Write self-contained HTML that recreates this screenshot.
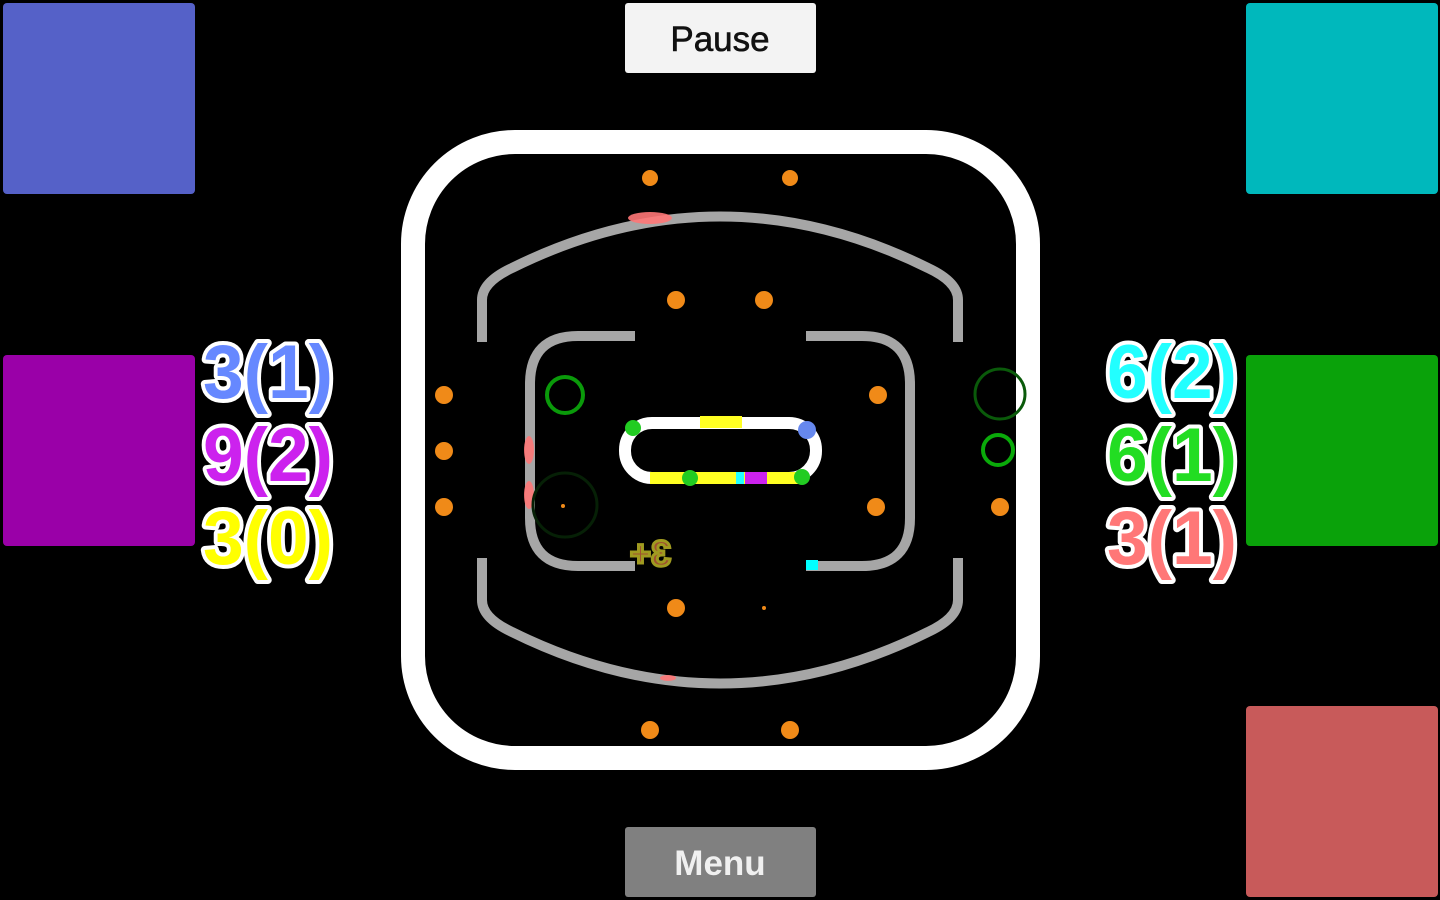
<!DOCTYPE html>
<html><head><meta charset="utf-8"><style>
html,body{margin:0;padding:0;background:#000;width:1440px;height:900px;overflow:hidden}
svg{display:block}
</style></head><body>
<svg width="1440" height="900" viewBox="0 0 1440 900" xmlns="http://www.w3.org/2000/svg">
<rect width="1440" height="900" fill="#000"/>
<rect x="3" y="3" width="192" height="191" rx="4" fill="#5561c8"/>
<rect x="3" y="355" width="192" height="191" rx="4" fill="#9a00a8"/>
<rect x="1246" y="3" width="192" height="191" rx="4" fill="#00b8bc"/>
<rect x="1246" y="355" width="192" height="191" rx="4" fill="#0aa20a"/>
<rect x="1246" y="706" width="192" height="191" rx="4" fill="#c85a5a"/>
<rect x="625" y="3" width="191" height="70" rx="3" fill="#f3f3f3"/>
<text x="720" y="51" font-family="Liberation Sans, sans-serif" font-size="35" text-anchor="middle" fill="#111" stroke="#111" stroke-width="0.6">Pause</text>
<rect x="625" y="827" width="191" height="70" rx="3" fill="#808080"/>
<text x="720" y="875" font-family="Liberation Sans, sans-serif" font-size="35" text-anchor="middle" font-weight="bold" fill="#f0f0f0">Menu</text>
<rect x="413" y="142" width="615" height="616" rx="102" fill="none" stroke="#fff" stroke-width="24"/>
<g fill="none" stroke="#a6a6a6" stroke-width="10">
<path d="M482,342 L482,300 Q482,282 512,268 Q720,165 928,268 Q958,282 958,300 L958,342"/>
<path d="M482,558 L482,600 Q482,618 512,632 Q720,735 928,632 Q958,618 958,600 L958,558"/>
<path d="M635,336 L578,336 Q530,336 530,384 L530,518 Q530,566 578,566 L635,566"/>
<path d="M806,336 L862,336 Q910,336 910,384 L910,518 Q910,566 862,566 L806,566"/>
</g>
<g fill="#ff7777" opacity="0.9">
<ellipse cx="650" cy="218" rx="22" ry="6"/>
<ellipse cx="529" cy="450" rx="5" ry="14"/>
<ellipse cx="529" cy="495" rx="5" ry="14"/>
<ellipse cx="668" cy="678" rx="8" ry="3"/>
</g>
<rect x="806" y="560" width="12" height="10" fill="#00ffff"/>
<rect x="625" y="423" width="191" height="55" rx="27" fill="none" stroke="#fff" stroke-width="12"/>
<g>
<circle cx="633" cy="428" r="8" fill="#22cc22"/>
<rect x="700" y="416" width="42" height="12" fill="#ffff22"/>
<circle cx="807" cy="430" r="9" fill="#6688ee"/>
<rect x="650" y="472" width="150" height="12" fill="#ffff22"/>
<circle cx="690" cy="478" r="8" fill="#22cc22"/>
<rect x="745" y="472" width="22" height="12" fill="#cc22ee"/>
<circle cx="802" cy="477" r="8" fill="#22cc22"/>
<rect x="736" y="472" width="8" height="12" fill="#22ffff"/>
</g>
<circle cx="565" cy="395" r="18" fill="none" stroke="#0a9a0a" stroke-width="4"/>
<circle cx="998" cy="450" r="15" fill="none" stroke="#0aaa0a" stroke-width="4"/>
<circle cx="1000" cy="394" r="25" fill="none" stroke="#0a5a0a" stroke-width="3"/>
<circle cx="565" cy="505" r="32" fill="none" stroke="#062006" stroke-width="3"/>
<g fill="#f08a18">
<circle cx="650" cy="178" r="8"/><circle cx="790" cy="178" r="8"/>
<circle cx="676" cy="300" r="9"/><circle cx="764" cy="300" r="9"/>
<circle cx="444" cy="395" r="9"/><circle cx="444" cy="451" r="9"/><circle cx="444" cy="507" r="9"/>
<circle cx="878" cy="395" r="9"/><circle cx="876" cy="507" r="9"/><circle cx="1000" cy="507" r="9"/>
<circle cx="676" cy="608" r="9"/><circle cx="764" cy="608" r="2"/><circle cx="563" cy="506" r="2"/>
<circle cx="650" cy="730" r="9"/><circle cx="790" cy="730" r="9"/>
</g>
<text x="645" y="566" font-family="Liberation Sans, sans-serif" font-size="36" font-weight="bold" fill="#a05030" stroke="#a09a20" stroke-width="3" transform="translate(1316 0) scale(-1 1)">3+</text>
<g font-family="Liberation Sans, sans-serif" font-weight="bold" font-size="76" stroke="#fff" stroke-width="8" paint-order="stroke" stroke-linejoin="round">
<text x="203" y="398" fill="#6688ff" textLength="130" lengthAdjust="spacingAndGlyphs">3(1)</text>
<text x="203" y="481" fill="#cc22ee" textLength="130" lengthAdjust="spacingAndGlyphs">9(2)</text>
<text x="203" y="564" fill="#ffff00" textLength="130" lengthAdjust="spacingAndGlyphs">3(0)</text>
<text x="1107" y="398" fill="#22ffff" textLength="130" lengthAdjust="spacingAndGlyphs">6(2)</text>
<text x="1107" y="481" fill="#22dd22" textLength="130" lengthAdjust="spacingAndGlyphs">6(1)</text>
<text x="1107" y="564" fill="#ff7777" textLength="130" lengthAdjust="spacingAndGlyphs">3(1)</text>
</g>
</svg>
</body></html>
